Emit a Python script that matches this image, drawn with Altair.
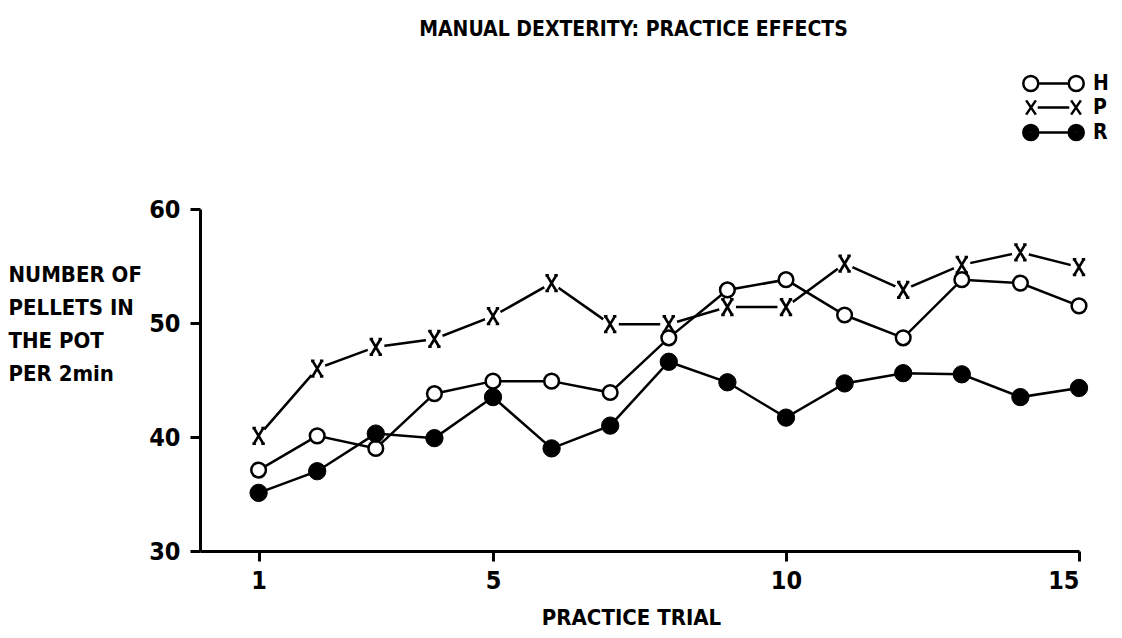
import altair as alt
import pandas as pd

# ---- data ----
trials = list(range(1, 16))
series_names = ["H", "P", "R"]
h_values = [37.1, 40.1, 39.0, 43.8, 44.9, 44.9, 43.9, 48.7, 52.9, 53.8, 50.7, 48.7, 53.8, 53.5, 51.5]
p_values = [40.1, 46.0, 47.9, 48.6, 50.6, 53.5, 49.9, 49.9, 51.4, 51.4, 55.2, 52.9, 55.1, 56.2, 54.9]
r_values = [35.1, 37.0, 40.3, 39.9, 43.5, 39.0, 41.0, 46.6, 44.8, 41.7, 44.7, 45.6, 45.5, 43.5, 44.3]
x_ticks = [1, 5, 10, 15]
y_ticks = [30, 40, 50, 60]

rows = []
for name, vals in zip(series_names, [h_values, p_values, r_values]):
    for t, v in zip(trials, vals):
        rows.append({"trial": t, "series": name, "value": v})
df = pd.DataFrame(rows)

FONT = "Liberation Sans Narrow, DejaVu Sans Condensed, sans-serif"

# marker shapes (unit square paths)
X_PATH = ("M-0.6,-1L0.6,1M0.6,-1L-0.6,1"
          "M-0.8,-1L-0.35,-1M0.35,-1L0.8,-1M-0.8,1L-0.35,1M0.35,1L0.8,1")
LEG_H = ("M-2.03,0L2.03,0"
         "M-2.03,0A1,1 0 1,1 -4.03,0A1,1 0 1,1 -2.03,0Z"
         "M4.03,0A1,1 0 1,1 2.03,0A1,1 0 1,1 4.03,0Z")
LEG_P = ("M-3.65,-0.95L-2.35,0.95M-2.35,-0.95L-3.65,0.95"
         "M2.35,-0.95L3.65,0.95M3.65,-0.95L2.35,0.95"
         "M-2.1,0L2.1,0")


def disc(cx):
    parts = []
    for r in [1.0, 0.8, 0.6, 0.4, 0.2, 0.05]:
        parts.append(f"M{cx + r},0A{r},{r} 0 1,1 {cx - r},0A{r},{r} 0 1,1 {cx + r},0Z")
    return "".join(parts)


LEG_R = "M-2.03,0L2.03,0" + disc(-3.03) + disc(3.03)

x_enc = alt.X(
    "trial:Q",
    scale=alt.Scale(domain=[0, 15], nice=False, zero=False),
    axis=alt.Axis(
        values=x_ticks, title="PRACTICE TRIAL", labelPadding=7,
        titleX=431, titleY=73, titleAlign="center", titleBaseline="alphabetic",
        titleFontSize=22,
    ),
)
y_enc = alt.Y(
    "value:Q",
    scale=alt.Scale(domain=[30, 60], nice=False, zero=False),
    axis=alt.Axis(
        values=y_ticks, labelPadding=10,
        title=["NUMBER OF", "PELLETS IN", "THE POT", "PER 2min"],
        titleAngle=0, titleAlign="left", titleBaseline="alphabetic",
        titleX=-192, titleY=72, titleLineHeight=33.3, titleFontSize=22,
    ),
)

base = alt.Chart(df).encode(x=x_enc, y=y_enc)

p_only = alt.datum.series == "P"
h_only = alt.datum.series == "H"
r_only = alt.datum.series == "R"
hr_only = alt.datum.series != "P"

p_line = base.transform_filter(p_only).mark_line(color="black", strokeWidth=2.5)
p_halo = base.transform_filter(p_only).mark_point(
    shape="circle", filled=True, fill="white", strokeWidth=0, size=300, opacity=1
)
p_marks = base.transform_filter(p_only).mark_point(
    shape=X_PATH, filled=False, stroke="black", strokeWidth=2.7, size=240, opacity=1
)
hr_lines = base.transform_filter(hr_only).mark_line(
    color="black", strokeWidth=2.5
).encode(detail="series:N")
h_marks = base.transform_filter(h_only).mark_point(
    shape="circle", filled=True, fill="white", stroke="black", strokeWidth=2.5,
    size=215, opacity=1
)
r_marks = base.transform_filter(r_only).mark_point(
    shape="circle", filled=True, fill="black", stroke="black", strokeWidth=1,
    size=300, opacity=1
)
legend_layer = base.mark_point(opacity=0, size=225).encode(
    shape=alt.Shape(
        "series:N",
        scale=alt.Scale(domain=series_names, range=[LEG_H, LEG_P, LEG_R]),
        legend=alt.Legend(
            title=None, orient="none", legendX=843, legendY=-136,
            symbolSize=225, symbolFillColor="white", symbolStrokeColor="black",
            symbolStrokeWidth=2.5, symbolOpacity=1, labelOffset=29,
            labelFont=FONT, labelFontSize=21, labelFontWeight="bold",
            labelColor="black", rowPadding=-1, padding=0,
        ),
    )
)

chart = (
    alt.layer(p_line, p_halo, p_marks, hr_lines, h_marks, r_marks, legend_layer)
    .properties(
        width=879,
        height=342,
        autosize=alt.AutoSizeParams(type="none"),
        padding={"left": 200, "top": 209, "right": 43, "bottom": 87},
        background="white",
        title=alt.TitleParams(
            "MANUAL DEXTERITY: PRACTICE EFFECTS",
            anchor="middle", dx=-6, offset=16, baseline="alphabetic",
            font=FONT, fontSize=21, fontWeight="bold", color="black",
        ),
    )
    .configure_view(strokeWidth=0)
    .configure_axis(
        grid=False,
        domainColor="black", domainWidth=3,
        tickColor="black", tickWidth=3, tickSize=10,
        labelFont=FONT, labelFontSize=25, labelFontWeight="bold", labelColor="black",
        titleFont=FONT, titleFontWeight="bold", titleColor="black",
    )
)

chart.save("out.html", embed_options={"renderer": "svg", "actions": False})
